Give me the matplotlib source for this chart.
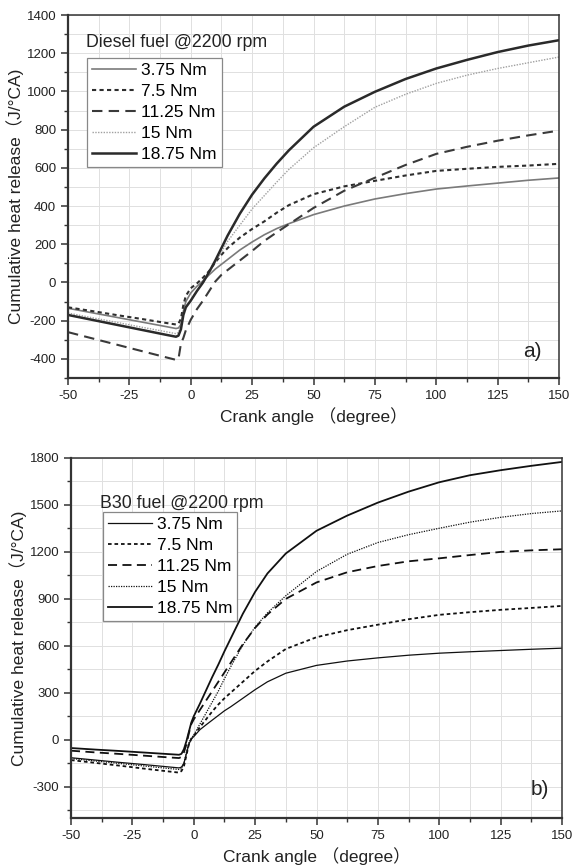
import matplotlib
matplotlib.use("Agg")
import matplotlib.pyplot as plt
from matplotlib.ticker import MultipleLocator

plt.rcParams['font.family'] = ['Liberation Sans', 'Noto Sans CJK SC', 'DejaVu Sans']
plt.rcParams['axes.unicode_minus'] = False

loads = ['3.75 Nm', '7.5 Nm', '11.25 Nm', '15 Nm', '18.75 Nm']

# panel a) diesel fuel
angles_a = [-50, -40, -30, -20, -10, -6, -5, -4, -3, -2, 0, 2.5, 5, 7.5, 10, 12.5, 15,
            20, 25, 30, 35, 40, 50, 62.5, 75, 87.5, 100, 112.5, 125, 137.5, 150]
diesel_375 = [-135, -159, -183, -207, -231, -241, -238, -220, -150, -100, -55, -20, 8, 40, 70, 95, 120,
              170, 212, 250, 282, 308, 355, 400, 437, 465, 489, 505, 520, 535, 547]
diesel_75 = [-130, -150, -171, -191, -212, -220, -215, -190, -117, -70, -30, -5, 25, 60, 105, 145, 180,
             235, 280, 320, 365, 405, 462, 503, 532, 560, 584, 595, 605, 612, 621]
diesel_1125 = [-260, -293, -326, -359, -392, -405, -400, -320, -290, -250, -195, -140, -95, -45, 5, 40, 65,
               115, 165, 218, 262, 305, 390, 480, 548, 615, 673, 710, 742, 770, 795]
diesel_15 = [-160, -185, -209, -234, -258, -268, -262, -225, -160, -125, -95, -45, 0, 50, 105, 160, 215,
             300, 385, 455, 525, 592, 705, 815, 917, 985, 1042, 1085, 1120, 1150, 1180]
diesel_1875 = [-170, -196, -222, -248, -274, -284, -278, -245, -170, -130, -95, -45, 0, 55, 115, 180, 245,
               360, 460, 545, 622, 692, 815, 920, 998, 1065, 1120, 1165, 1206, 1240, 1268]

# panel b) B30 fuel
angles_b = [-50, -40, -30, -20, -10, -6, -5, -4, -3, -2, -1, 0, 2.5, 5, 7.5, 10, 12.5, 15,
            20, 25, 30, 37.5, 50, 62.5, 75, 87.5, 100, 112.5, 125, 137.5, 150]
b30_375 = [-115, -130, -145, -159, -174, -180, -175, -150, -90, -30, 5, 20, 64, 95, 125, 155, 185, 210,
           265, 320, 370, 425, 475, 503, 523, 540, 553, 562, 570, 578, 585]
b30_75 = [-130, -148, -166, -185, -203, -210, -200, -170, -100, -30, 5, 25, 80, 130, 180, 225, 265, 300,
          370, 440, 500, 580, 655, 700, 735, 770, 798, 815, 830, 842, 855]
b30_1125 = [-70, -81, -91, -102, -113, -117, -110, -80, -30, 40, 100, 130, 190, 250, 310, 370, 430, 490,
            610, 715, 800, 900, 1005, 1070, 1110, 1140, 1159, 1180, 1200, 1210, 1217]
b30_15 = [-120, -136, -152, -168, -184, -190, -185, -150, -80, -20, 10, 30, 100, 170, 240, 310, 390, 465,
          605, 720, 810, 920, 1075, 1185, 1260, 1310, 1351, 1390, 1421, 1445, 1462]
b30_1875 = [-53, -63, -72, -82, -92, -96, -90, -60, -10, 50, 110, 150, 230, 315, 400, 480, 565, 645,
            805, 945, 1062, 1190, 1335, 1432, 1515, 1585, 1645, 1690, 1722, 1750, 1775]

styles_a = [
    dict(color='#7a7a7a', lw=1.2, ls='-'),
    dict(color='#2e2e2e', lw=1.5, ls=(0, (2, 1.6))),
    dict(color='#3a3a3a', lw=1.5, ls=(0, (5, 3))),
    dict(color='#a0a0a0', lw=1.0, ls=(0, (1, 1))),
    dict(color='#2a2a2a', lw=1.8, ls='-'),
]
styles_b = [
    dict(color='#111111', lw=0.9, ls='-'),
    dict(color='#111111', lw=1.3, ls=(0, (2, 1.6))),
    dict(color='#111111', lw=1.3, ls=(0, (5, 3))),
    dict(color='#111111', lw=0.9, ls=(0, (1, 1))),
    dict(color='#111111', lw=1.3, ls='-'),
]


def draw_panel(ax, angles, series, styles, ylim, ymajor, yminor, title, title_xy, leg_xy, tag, tag_xy):
    for vals, st, lab in zip(series, styles, loads):
        ax.plot(angles, vals, label=lab, **st)
    ax.set_xlim(-50, 150)
    ax.set_ylim(*ylim)
    ax.xaxis.set_major_locator(MultipleLocator(25))
    ax.xaxis.set_minor_locator(MultipleLocator(12.5))
    ax.yaxis.set_major_locator(MultipleLocator(ymajor))
    ax.yaxis.set_minor_locator(MultipleLocator(yminor))
    ax.grid(True, which='both', color='#e0e0e0', lw=0.7)
    ax.set_axisbelow(True)
    for s in ax.spines.values():
        s.set_color('#333333')
        s.set_linewidth(1.1)
    ax.spines['left'].set_linewidth(1.6)
    ax.spines['bottom'].set_linewidth(1.6)
    ax.tick_params(which='major', direction='out', length=5, width=1.1, labelsize=9.5,
                   colors='#333333', labelcolor='#222222')
    ax.tick_params(which='minor', direction='out', length=3, width=1.0, colors='#333333')
    ax.set_xlabel('Crank angle （degree）', fontsize=12.5, color='#222222', labelpad=4)
    ax.set_ylabel('Cumulative heat release（J/°CA)', fontsize=12.5, color='#222222', labelpad=2)
    ax.text(title_xy[0], title_xy[1], title, transform=ax.transAxes, fontsize=12.8,
            color='#222222', va='center', ha='left')
    leg = ax.legend(loc='upper left', bbox_to_anchor=leg_xy, borderaxespad=0, fontsize=12.5,
                    handlelength=2.5, handletextpad=0.3, labelspacing=0.33, borderpad=0.3,
                    fancybox=False, framealpha=1, edgecolor='#888888')
    leg.get_frame().set_linewidth(0.9)
    ax.text(tag_xy[0], tag_xy[1], tag, transform=ax.transAxes, fontsize=15,
            color='#222222', va='center', ha='center')


fig = plt.figure(figsize=(5.74, 8.68), dpi=100)
ax1 = fig.add_axes([68 / 574, 1 - 378 / 868, 491 / 574, 363 / 868])
ax2 = fig.add_axes([71 / 574, 1 - 818 / 868, 491 / 574, 360 / 868])

draw_panel(ax1, angles_a, [diesel_375, diesel_75, diesel_1125, diesel_15, diesel_1875], styles_a,
           (-500, 1400), 200, 100, 'Diesel fuel @2200 rpm', (0.036, 0.923), (0.039, 0.882),
           'a)', (0.945, 0.072))
draw_panel(ax2, angles_b, [b30_375, b30_75, b30_1125, b30_15, b30_1875], styles_b,
           (-500, 1800), 300, 150, 'B30 fuel @2200 rpm', (0.059, 0.875), (0.065, 0.85),
           'b)', (0.955, 0.078))

fig.savefig('out.png', dpi=100)
